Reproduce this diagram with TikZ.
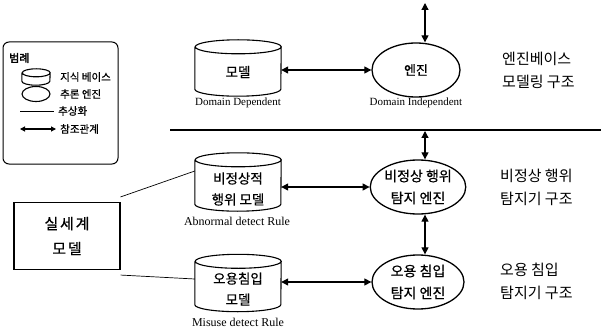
\documentclass[tikz,border=0pt]{standalone}
\usepackage{fontspec}
\setmainfont{Liberation Serif}
\newfontfamily\kr{Noto Sans CJK KR}
\newfontfamily\krm{Noto Sans CJK KR}[FakeBold=0.6]
\newfontfamily\krb{Noto Sans CJK KR}[FakeBold=2.5]
\newfontfamily\krs{Noto Sans CJK KR}[FakeBold=0.6,LetterSpace=12]
\usetikzlibrary{arrows.meta,shapes.geometric}
\newcommand\kbcyl[4]{%
  \draw[line width=#4] ([yshift=-#3]#1.north west) -- ([yshift=#3]#1.south west)
    arc[start angle=180,end angle=360,x radius=#2,y radius=#3]
    -- ([yshift=-#3]#1.north east)
    arc[start angle=0,end angle=360,x radius=#2,y radius=#3];}
\begin{document}
\begin{tikzpicture}[x=1pt,y=-1pt,
  kbnode/.style={minimum width=86pt,minimum height=57pt,inner sep=0pt},
  kbtext/.style={inner sep=0pt,align=center,font=\krm\fontsize{13.5}{21}\selectfont},
  eng/.style={ellipse,draw,line width=1.3pt,minimum width=92pt,minimum height=54pt,
    inner sep=0pt,align=center,font=\krm\fontsize{14}{22}\selectfont},
  ref/.style={{Triangle[length=7pt,width=7pt]}-{Triangle[length=7pt,width=7pt]},line width=1.2pt},
  smallref/.style={{Triangle[length=5pt,width=5pt]}-{Triangle[length=5pt,width=5pt]},line width=1.1pt},
  abst/.style={line width=0.7pt},
  lab/.style={font=\fontsize{11}{13}\selectfont,inner sep=0pt},
  rlab/.style={font=\fontsize{12}{14}\selectfont,inner sep=0pt},
  rtext/.style={anchor=west,align=left,inner sep=0pt,font=\kr\fontsize{15}{23}\selectfont},
  legtext/.style={anchor=west,inner sep=0pt,font=\krm\fontsize{10.5}{12}\selectfont}]
\useasboundingbox (0,0) rectangle (601,331);

% legend
\node[draw,rounded corners=6pt,line width=1pt,minimum width=115pt,minimum height=122pt] (leg) at (60.5,103) {};
\node[anchor=west,inner sep=0pt,font=\krb\fontsize{11}{12}\selectfont] (legt) at (9,58) {범례};
\node[minimum width=28pt,minimum height=16pt,inner sep=0pt] (lc) at (36,77) {};
\kbcyl{lc}{14pt}{4pt}{1.1pt}
\node[legtext] (lt1) at (60,77) {지식 베이스};
\node[ellipse,draw,line width=1.1pt,minimum width=28pt,minimum height=15pt,inner sep=0pt] (le) at (36,94) {};
\node[legtext] (lt2) at (60,94) {추론 엔진};
\coordinate (la1) at (20,111);
\coordinate (la2) at (54,111);
\draw[abst] (la1) -- (la2);
\node[legtext] (lt3) at (58,111) {추상화};
\coordinate (lr1) at (20,129);
\coordinate (lr2) at (56,129);
\draw[smallref] (lr1) -- (lr2);
\node[legtext] (lt4) at (60,129) {참조관계};

% top row
\coordinate (top) at (425,3);
\node[kbnode,minimum height=56pt] (c1) at (238,68) {};
\kbcyl{c1}{43pt}{7pt}{1.1pt}
\node[kbtext] (c1t) at (238,72) {모델};
\node[eng,minimum width=88pt,font=\krm\fontsize{13}{20}\selectfont] (e1) at (416,70) {엔진};
\draw[ref] ([yshift=-2pt]c1.east) -- (e1.west);
\draw[ref] (top) -- ([xshift=9pt]e1.north);
\node[lab] (l1) at (238,103) {Domain Dependent};
\node[lab] (l2) at (416,103) {Domain Independent};
\node[rtext] (t1) at (502,70) {엔진베이스\\모델링 구조};

% separator
\coordinate (s1) at (170,130);
\coordinate (s2) at (601,130);
\draw[line width=1.2pt] (s1) -- (s2);
\coordinate (sa) at (425,131);

% middle row
\node[kbnode,minimum height=58pt] (c2) at (238,182) {};
\kbcyl{c2}{43pt}{7pt}{1.1pt}
\node[kbtext] (c2t) at (238,189) {비정상적\\행위 모델};
\node[eng] (e2) at (418,187) {비정상 행위\\탐지 엔진};
\draw[ref] ([yshift=-5pt]c2.east) -- (e2.west);
\draw[ref] (sa) -- ([xshift=7pt]e2.north);
\node[rlab] (l3) at (237,221) {Abnormal detect Rule};
\node[rtext] (t2) at (500,187) {비정상 행위\\탐지기 구조};

% bottom row
\node[kbnode] (c3) at (238,283) {};
\kbcyl{c3}{43pt}{7pt}{1.1pt}
\node[kbtext] (c3t) at (238,289) {오용침입\\모델};
\node[eng] (e3) at (418,282) {오용 침입\\탐지 엔진};
\draw[ref] ([yshift=1pt]c3.east) -- (e3.west);
\draw[ref] ([xshift=7pt]e2.south) -- ([xshift=7pt]e3.north);
\node[rlab] (l4) at (238,322) {Misuse detect Rule};
\node[rtext] (t3) at (500,281) {오용 침입\\탐지기 구조};

% real world model
\node[draw,line width=1.1pt,minimum width=106pt,minimum height=67pt,align=center,
  font=\krs\fontsize{15}{25}\selectfont] (rw) at (67,236) {실세계\\모델};
\draw[abst] ([yshift=5pt]rw.north east) -- ([yshift=11pt]c2.west);
\draw[abst] ([yshift=-5pt]rw.south east) -- ([yshift=4pt]c3.west);
\end{tikzpicture}
\end{document}
